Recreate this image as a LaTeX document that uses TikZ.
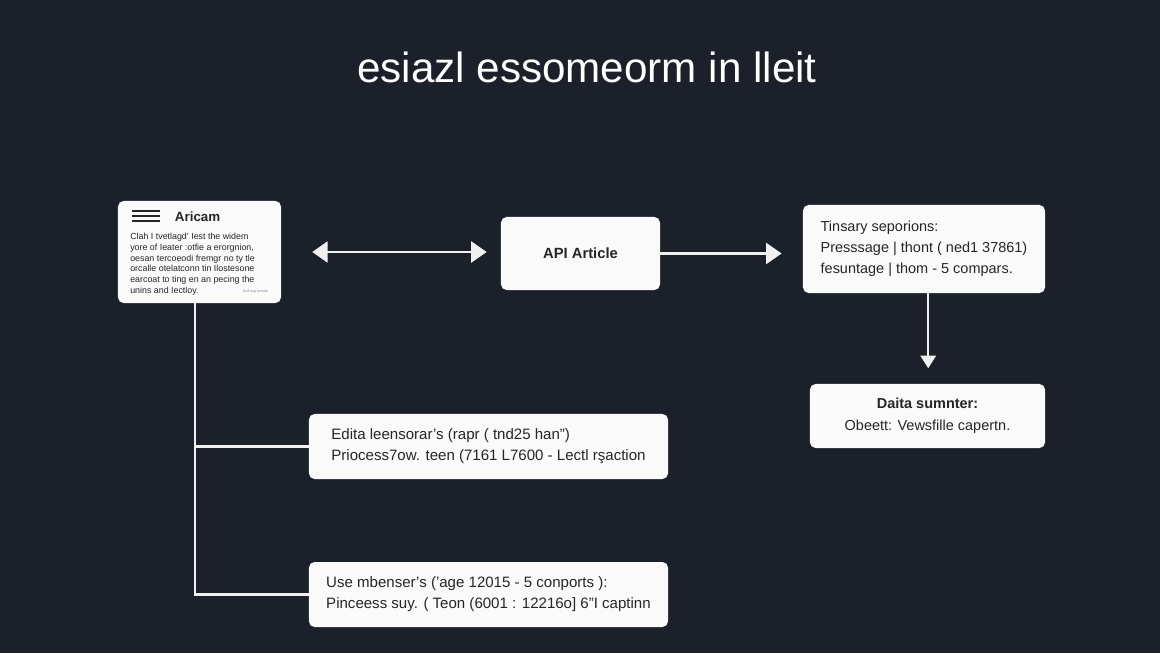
\documentclass[tikz,border=0pt]{standalone}
\usepackage{fontspec}
\setmainfont{Liberation Sans}
\usetikzlibrary{positioning,arrows.meta}
\definecolor{bgnavy}{HTML}{1B202A}
\definecolor{cardwhite}{HTML}{FAFAFA}
\definecolor{inktext}{HTML}{262626}
\definecolor{wireline}{HTML}{F0F0F0}
\tikzset{card/.style={draw=none,fill=cardwhite,rounded corners=4pt,text=inktext}}
\tikzset{textcard/.style={card,align=left,inner sep=0pt,font=\fontsize{10.3}{15}\selectfont}}
\tikzset{widecard/.style={textcard,minimum width=8.975cm,minimum height=1.625cm,font=\fontsize{10.7}{15}\selectfont}}
\tikzset{wire/.style={draw=wireline,line width=1.5pt}}
\tikzset{arr/.style={wire,-{Triangle[length=11pt,width=15pt]}}}
\tikzset{darr/.style={wire,{Triangle[length=11pt,width=15pt]}-{Triangle[length=11pt,width=15pt]}}}
\tikzset{downarr/.style={wire,-{Triangle[length=9pt,width=11pt]}}}
\begin{document}
\begin{tikzpicture}[x=0.025cm,y=-0.025cm]
    \fill[bgnavy] (0,0) rectangle (1160,653);
    \useasboundingbox (0,0) rectangle (1160,653);
    \node[text=white,font=\fontsize{30}{36}\selectfont] (title) at (587,67) {esiazl essomeorm in lleit};
    % article card
    \node[card,minimum width=4.075cm,minimum height=2.55cm] (article) at (199.5,252) {};
    \foreach \y in {211,216,221}
        \draw[inktext,line width=1pt] (132,\y) -- (160,\y);
    \node[anchor=west,text=inktext,font=\fontsize{9.5}{11}\selectfont\bfseries] (head) at (170,217) {Aricam};
    \node[anchor=north west,inner sep=0pt,align=left,text=inktext,font=\fontsize{6.3}{7.6}\selectfont] (body) at (130,233) {Clah I tvetlagd' Iest the widem\\yore of Ieater :otfie a erorgnion,\\oesan tercoeodi fremgr no ty tle\\orcalle otelatconn tin Ilostesone\\earcoat to ting en an pecing the\\unins and Iectloy.};
    \node[anchor=base east,inner sep=0pt,text=gray,font=\fontsize{2.5}{3}\selectfont] (note) at (268,292) {Bell sup Ionnde};
    % api
    \node[card,minimum width=3.975cm,minimum height=1.825cm,font=\fontsize{10.5}{12}\selectfont\bfseries] (api) at (580.5,253.5) {API Article};
    \node[textcard,minimum width=6.05cm,minimum height=2.2cm] (tinsary) at (924,249) {Tinsary seporions:\\Presssage | thont ( ned1 37861)\\fesuntage | thom - 5 compars.};
    \node[textcard,align=center,minimum width=5.875cm,minimum height=1.6cm,font=\fontsize{10.3}{15.5}\selectfont] (summary) at (927.5,416) {\textbf{Daita sumnter:}\\Obeett: Vewsfille capertn.};
    \node[widecard] (edit) at (488.5,446.5) {Edita leensorar's (rapr ( tnd25 han")\\Priocess7ow. teen (7161 L7600 - Lectl rşaction};
    \node[widecard] (use) at (488.5,594.5) {Use mbenser's ('age 12015 - 5 conports ):\\Pinceess suy. ( Teon (6001 : 12216o] 6"I captinn};
    % connectors
    \draw[darr,shorten <=22pt,shorten >=10pt] (article.east) -- (article.east -| api.west);
    \draw[arr,shorten >=15pt] (api.east) -- (api.east -| tinsary.west);
    \draw[downarr,shorten >=11pt] ([xshift=3pt]tinsary.south) -- ([xshift=3pt]tinsary.south |- summary.north);
    \draw[wire] ([xshift=-3pt]article.south) |- (edit.west);
    \draw[wire] ([xshift=-3pt]article.south) |- (use.west);
\end{tikzpicture}
\end{document}
